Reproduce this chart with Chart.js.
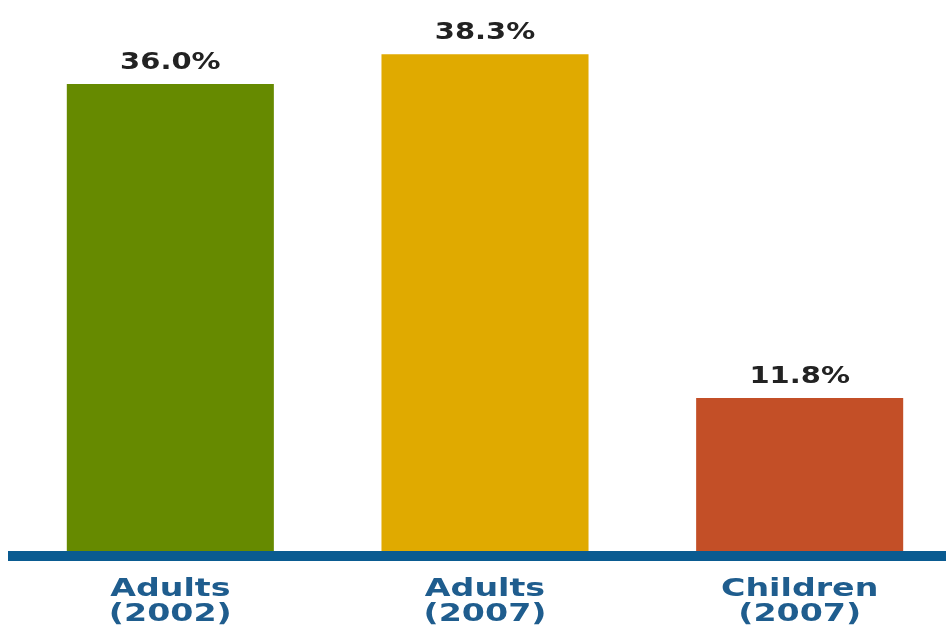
<!DOCTYPE html>
<html>
<head>
<meta charset="utf-8">
<script src="https://cdn.jsdelivr.net/npm/chart.js@4"></script>
<style>
  html, body { margin: 0; padding: 0; background: #fff; overflow: hidden; }
  #wrap { width: 958px; height: 628px; }
</style>
</head>
<body>
<div id="wrap"><canvas id="chart"></canvas></div>
<script>
// data
const groups = [['Adults', '(2002)'], ['Adults', '(2007)'], ['Children', '(2007)']];
const shares = [36.0, 38.3, 11.8];
const barColors = ['#668a00', '#e0aa00', '#c34f27'];

// the original lettering is wide, so text gets stretched sideways
const LABEL_STRETCH = 1.33;
const VALUE_STRETCH = 1.26;

// value labels over each bar
const valueLabels = {
  id: 'valueLabels',
  afterDatasetsDraw(chart) {
    const ctx = chart.ctx;
    const meta = chart.getDatasetMeta(0);
    meta.data.forEach((bar, i) => {
      ctx.save();
      ctx.translate(bar.x, bar.y - 15);
      ctx.scale(VALUE_STRETCH, 1);
      ctx.font = 'bold 23px "DejaVu Sans"';
      ctx.fillStyle = '#222222';
      ctx.textAlign = 'center';
      ctx.textBaseline = 'alphabetic';
      ctx.fillText(shares[i].toFixed(1) + '%', 0, 0);
      ctx.restore();
    });
  }
};

// draw the x tick labels stretched around their own anchor
function stretchLabels(scale) {
  if (scale._stretched || !Chart.helpers || !Chart.helpers.renderText) return;
  scale._stretched = true;
  scale.drawLabels = function (chartArea) {
    const ctx = this.ctx;
    for (const item of this.getLabelItems(chartArea)) {
      const [x, y] = item.options.translation;
      ctx.save();
      ctx.translate(x, y);
      ctx.scale(LABEL_STRETCH, 1);
      Chart.helpers.renderText(ctx, item.label, 0, item.textOffset, item.font,
        Object.assign({}, item.options, { translation: undefined, rotation: 0 }));
      ctx.restore();
    }
  };
}

new Chart(document.getElementById('chart'), {
  type: 'bar',
  data: {
    labels: groups,
    datasets: [{
      data: shares,
      backgroundColor: barColors,
      borderWidth: 0,
      barPercentage: 0.658,
      categoryPercentage: 1
    }]
  },
  options: {
    responsive: true,
    maintainAspectRatio: false,
    animation: false,
    layout: { padding: { left: 13, right: 1, top: 0, bottom: 0 } },
    plugins: {
      legend: { display: false },
      tooltip: { enabled: false }
    },
    scales: {
      x: {
        grid: { display: false, drawTicks: false },
        border: { display: true, color: '#0a5b91', width: 10 },
        ticks: {
          color: '#1f5d8e',
          padding: 21,
          font: { family: 'DejaVu Sans', weight: 'bold', size: 25, lineHeight: 1 }
        },
        afterFit(scale) { scale.height = 72; },
        afterUpdate: stretchLabels
      },
      y: {
        display: false,
        min: -0.386,
        max: 42.48
      }
    }
  },
  plugins: [valueLabels]
});
</script>
</body>
</html>
